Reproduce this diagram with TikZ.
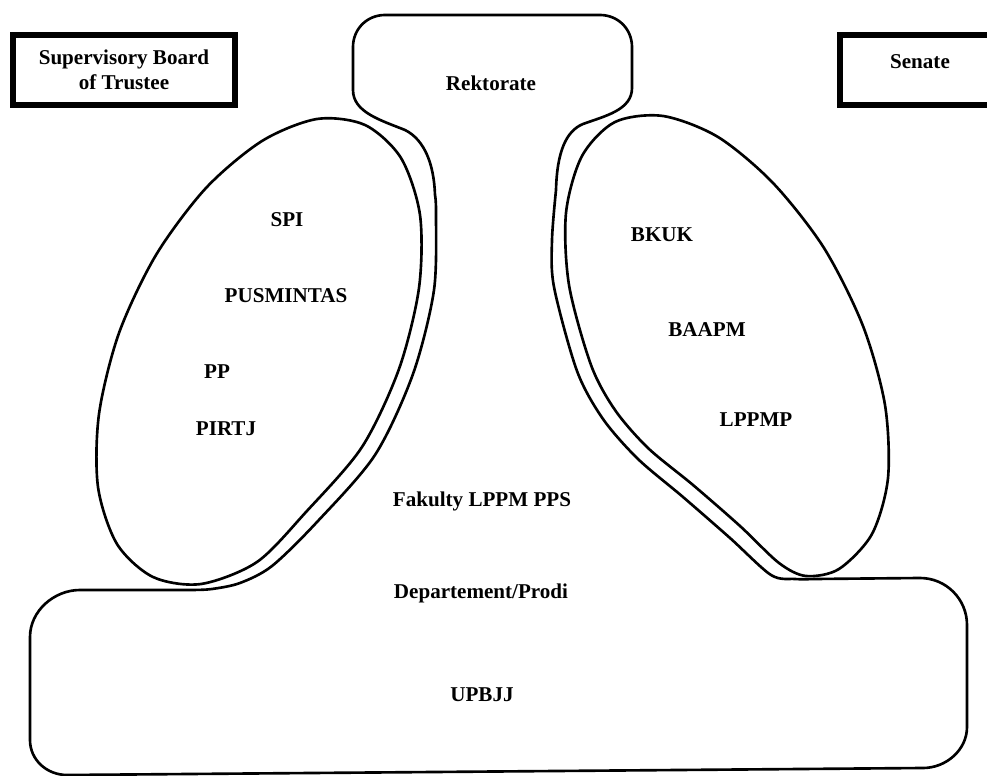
\documentclass[tikz,border=0pt]{standalone}
\usepackage{fontspec}
\setmainfont{Liberation Serif}

\begin{document}
\begin{tikzpicture}[
    x=0.02cm, y=-0.02cm,
    outline/.style={line width=1.5pt, line join=round},
    board/.style={rectangle, draw, line width=3.4pt, minimum height=1.4cm,
                  align=center, font=\bfseries\fontsize{12}{14}\selectfont},
    unit/.style={font=\bfseries\fontsize{12}{14}\selectfont, align=center, inner sep=1pt}
]
\useasboundingbox (0,0) rectangle (987,776);

% Boards
\node[board, minimum width=4.44cm] (sbt) at (124,70) {Supervisory Board\\of Trustee};
\node[board, minimum width=3.2cm, text height=8pt, text depth=10pt] (senate) at (920,70) {Senate};

% Rektorate, neck and UPBJJ base in one outline
\draw[outline]
    (353,90) -- (353,47) .. controls (353,29) and (367,15) .. (385,15)
    -- (600,15) .. controls (618,15) and (632,29) .. (632,47)
    -- (632,88) .. controls (632,110) and (605,116) .. (583,124)
    .. controls (566,131) and (557,152) .. (556,190)
    -- plot[smooth] coordinates {(556,190) (552,240) (554,287) (577,371) (603,419)
                                 (638,459) (683,497) (730,538) (771,575) (795,579) (815,579)}
    -- (920,578) .. controls (946,578) and (967,599) .. (967,625)
    -- (967,727) .. controls (967,750) and (946,768) .. (923,768)
    -- (67,775) .. controls (47,775) and (30,760) .. (30,740)
    -- (30,637) .. controls (30,611) and (54,590) .. (80,590)
    -- (175,590)
    -- plot[smooth] coordinates {(175,590) (192,590) (212,589) (240,583) (272,566) (317,522)
                                 (375,455) (413,374) (434,290) (436,213) (435,195)}
    .. controls (434,165) and (425,140) .. (405,130)
    .. controls (380,120) and (353,112) .. (353,90) -- cycle;

% Left lobe
\draw[outline] plot[smooth cycle] coordinates {
    (365,125) (401,158) (420,215) (419,288) (399,369) (362,447) (306,512) (257,562)
    (201,584) (153,577) (117,544) (98,487) (99,414) (119,333) (156,255) (206,188)
    (262,141) (317,119)};

% Right lobe
\draw[outline] plot[smooth cycle] coordinates {
    (615,122) (582,156) (566,213) (569,285) (591,365) (615,410) (648,448) (693,485)
    (740,526) (779,563) (806,576) (839,569) (872,534) (888,478) (885,405) (863,326)
    (824,248) (773,183) (718,137) (663,116)};

% Units
\node[unit] (rek)    at (491,83)  {Rektorate};
\node[unit] (spi)    at (287,220) {SPI};
\node[unit] (pusm)   at (286,296) {PUSMINTAS};
\node[unit] (pp)     at (217,372) {PP};
\node[unit] (pirtj)  at (226,429) {PIRTJ};
\node[unit] (bkuk)   at (662,235) {BKUK};
\node[unit] (baapm)  at (707,330) {BAAPM};
\node[unit] (lppmp)  at (756,420) {LPPMP};
\node[unit] (fak)    at (482,501) {Fakulty LPPM PPS};
\node[unit] (dept)   at (481,593) {Departement/Prodi};
\node[unit] (upbjj)  at (482,695) {UPBJJ};
\end{tikzpicture}
\end{document}
